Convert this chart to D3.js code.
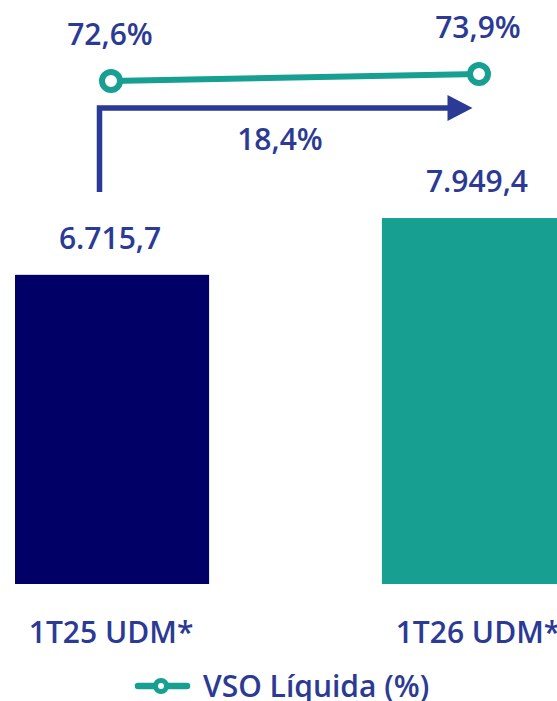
<!DOCTYPE html>
<html>
<head>
<meta charset="utf-8">
<script src="https://cdn.jsdelivr.net/npm/d3@7"></script>
<style>
  html, body { margin: 0; padding: 0; background: #fff; overflow: hidden; }
  text { font-family: "Open Sans", "Noto Sans", sans-serif; font-weight: 600; fill: #2b3a94; }
</style>
</head>
<body>
<svg id="chart"></svg>
<script>
// data
const categories = ['1T25 UDM*', '1T26 UDM*'];
const barValues = [6715.7, 7949.4];
const barLabels = ['6.715,7', '7.949,4'];
const vsoValues = [72.6, 73.9];
const vsoLabels = ['72,6%', '73,9%'];
const legendLabel = 'VSO Líquida (%)';

const width = 557;
const height = 701;
const textColor = '#2b3a94';
const barColors = ['#000066', '#179f92'];
const lineColor = '#179f92';
const fontSize = '30px';

const svg = d3.select('#chart')
  .attr('width', width)
  .attr('height', height);

// scales
const x = d3.scaleBand()
  .domain(categories)
  .range([15, 576])
  .paddingInner(0.471)
  .paddingOuter(0);

const y = d3.scaleLinear()
  .domain([0, 8000])
  .range([584, 215.7]);

const xLine = d3.scalePoint()
  .domain(categories)
  .range([111, 479]);

const yLine = d3.scaleLinear()
  .domain([70, 80])
  .range([95, 41.15]);

const barData = categories.map(function(c, i) {
  return { cat: c, value: barValues[i], label: barLabels[i], color: barColors[i] };
});
const lineData = categories.map(function(c, i) {
  return { cat: c, value: vsoValues[i], label: vsoLabels[i] };
});

const center = function(c) { return x(c) + x.bandwidth() / 2; };

// bars
svg.append('g').selectAll('rect')
  .data(barData)
  .enter()
  .append('rect')
  .attr('x', function(d) { return x(d.cat); })
  .attr('y', function(d) { return y(d.value); })
  .attr('width', x.bandwidth())
  .attr('height', function(d) { return y(0) - y(d.value); })
  .attr('fill', function(d) { return d.color; });

svg.append('g').selectAll('text')
  .data(barData)
  .enter()
  .append('text')
  .attr('x', function(d) { return center(d.cat) - 2; })
  .attr('y', function(d) { return y(d.value) - 26; })
  .attr('text-anchor', 'middle')
  .style('font-size', fontSize)
  .text(function(d) { return d.label; });

// category labels
svg.append('g').selectAll('text')
  .data(categories)
  .enter()
  .append('text')
  .attr('x', function(d) { return center(d) - 1; })
  .attr('y', 643)
  .attr('text-anchor', 'middle')
  .style('font-size', fontSize)
  .text(function(d) { return d; });

// growth arrow
const growth = (barValues[1] / barValues[0] - 1) * 100;
const arrowX0 = xLine(categories[0]) - 11.5;
const arrowTip = xLine(categories[1]) - 6.5;
const arrowY = 108;
const headLen = 25;

svg.append('path')
  .attr('d', 'M' + arrowX0 + ',192 V' + arrowY + ' H' + (arrowTip - headLen + 2))
  .attr('fill', 'none')
  .attr('stroke', textColor)
  .attr('stroke-width', 5.5);

svg.append('path')
  .attr('d', 'M' + (arrowTip - headLen) + ',' + (arrowY - 13) + ' L' + arrowTip + ',' + arrowY +
    ' L' + (arrowTip - headLen) + ',' + (arrowY + 13) + 'Z')
  .attr('fill', textColor);

svg.append('text')
  .attr('x', 280)
  .attr('y', 150)
  .attr('text-anchor', 'middle')
  .style('font-size', fontSize)
  .text(d3.format('.1f')(growth).replace('.', ',') + '%');

// VSO line
const line = d3.line()
  .x(function(d) { return xLine(d.cat); })
  .y(function(d) { return yLine(d.value); });

svg.append('path')
  .datum(lineData)
  .attr('d', line)
  .attr('fill', 'none')
  .attr('stroke', lineColor)
  .attr('stroke-width', 6);

svg.append('g').selectAll('circle')
  .data(lineData)
  .enter()
  .append('circle')
  .attr('cx', function(d) { return xLine(d.cat); })
  .attr('cy', function(d) { return yLine(d.value); })
  .attr('r', 9)
  .attr('fill', '#fff')
  .attr('stroke', lineColor)
  .attr('stroke-width', 6);

svg.append('g').selectAll('text')
  .data(lineData)
  .enter()
  .append('text')
  .attr('x', function(d) { return xLine(d.cat) - 1; })
  .attr('y', function(d) { return yLine(d.value) - 36; })
  .attr('text-anchor', 'middle')
  .style('font-size', fontSize)
  .text(function(d) { return d.label; });

// legend
const legend = svg.append('g').attr('transform', 'translate(135,686)');
legend.append('line')
  .attr('x1', 3).attr('x2', 52)
  .attr('y1', 0).attr('y2', 0)
  .attr('stroke', lineColor)
  .attr('stroke-width', 6.5)
  .attr('stroke-linecap', 'round');
legend.append('circle')
  .attr('cx', 26).attr('cy', 0).attr('r', 5.5)
  .attr('fill', '#fff')
  .attr('stroke', lineColor)
  .attr('stroke-width', 5);
legend.append('text')
  .attr('x', 68)
  .attr('y', 697)
  .attr('transform', 'translate(0,-686)')
  .style('font-size', fontSize)
  .text(legendLabel);
</script>
</body>
</html>
